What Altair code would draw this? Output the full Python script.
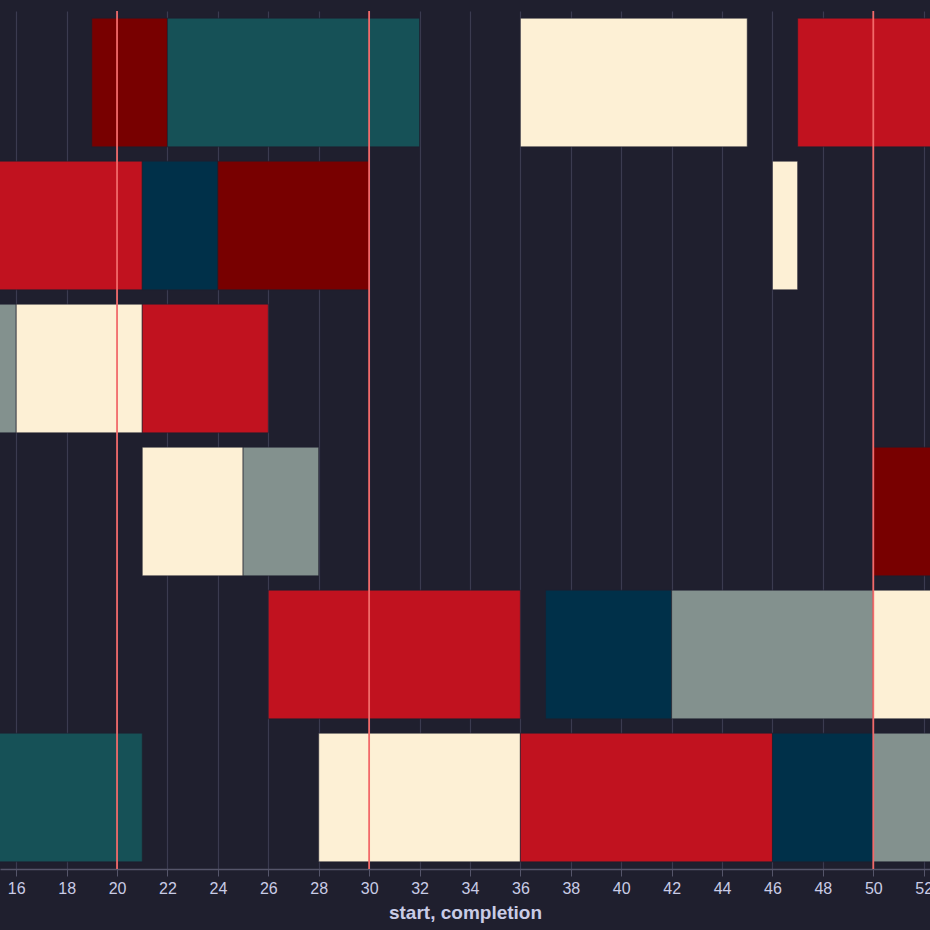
import altair as alt
import pandas as pd

# Schedule data (off-screen ends estimated)
machines = ["M1", "M1", "M1", "M1",
            "M2", "M2", "M2", "M2",
            "M3", "M3", "M3",
            "M4", "M4", "M4",
            "M5", "M5", "M5", "M5",
            "M6", "M6", "M6", "M6", "M6"]
jobs = ["J1", "J6", "J3", "J2",
        "J2", "J4", "J1", "J3",
        "J5", "J3", "J2",
        "J3", "J5", "J1",
        "J2", "J4", "J5", "J3",
        "J6", "J3", "J2", "J4", "J5"]
starts = [19, 22, 36, 47,
          12, 21, 24, 46,
          10, 16, 21,
          21, 25, 50,
          26, 37, 42, 50,
          13, 28, 36, 46, 50]
completions = [22, 32, 45, 55,
               21, 24, 30, 47,
               16, 21, 26,
               25, 28, 56,
               36, 42, 50, 54,
               21, 36, 46, 50, 55]

machine_order = ["M1", "M2", "M3", "M4", "M5", "M6"]
job_names = ["J1", "J2", "J3", "J4", "J5", "J6"]
job_colors = ["#780000", "#c1121f", "#fdf0d5", "#003049", "#83918e", "#165157"]

deadlines = [20, 30, 50]
tick_values = list(range(16, 53, 2))
x_domain = [15.357, 52.25]

df = pd.DataFrame({"machine": machines, "job": jobs,
                   "start": starts, "completion": completions})
rules_df = pd.DataFrame({"deadline": deadlines})

x_scale = alt.Scale(domain=x_domain, nice=False, zero=False)

bars = alt.Chart(df).mark_bar(
    clip=True, stroke="#1f1f2e", strokeWidth=1, strokeOpacity=0.6
).encode(
    x=alt.X("start:Q", scale=x_scale,
            title="start, completion",
            axis=alt.Axis(values=tick_values, grid=True, gridColor="#3b3b50",
                          gridWidth=1.2,
                          labelFlush=False, domainColor="#55556a",
                          tickColor="#55556a", tickSize=7, domainWidth=1.5,
                          labelColor="#c9cce6", labelFontSize=16,
                          labelFont="Liberation Sans", labelPadding=4,
                          titleColor="#c9cce6", titleFontSize=19,
                          titleFont="Liberation Sans", titleFontWeight="bold",
                          titlePadding=7)),
    x2="completion:Q",
    y=alt.Y("machine:N", sort=machine_order, axis=None,
            scale=alt.Scale(paddingInner=0.1, paddingOuter=0.05)),
    color=alt.Color("job:N", scale=alt.Scale(domain=job_names, range=job_colors),
                    legend=None),
)

rules = alt.Chart(rules_df).mark_rule(
    color="#f26a6a", strokeWidth=1.8, clip=True
).encode(
    x=alt.X("deadline:Q", scale=x_scale)
)

chart = alt.layer(bars, rules).properties(
    width=930, height=858,
    autosize=alt.AutoSizeParams(type="none"),
    padding={"left": 0, "top": 11, "right": 0, "bottom": 61},
    background="#1f1f2e",
).configure_view(stroke=None)

chart.save("out.html", embed_options={"renderer": "svg", "actions": False})
